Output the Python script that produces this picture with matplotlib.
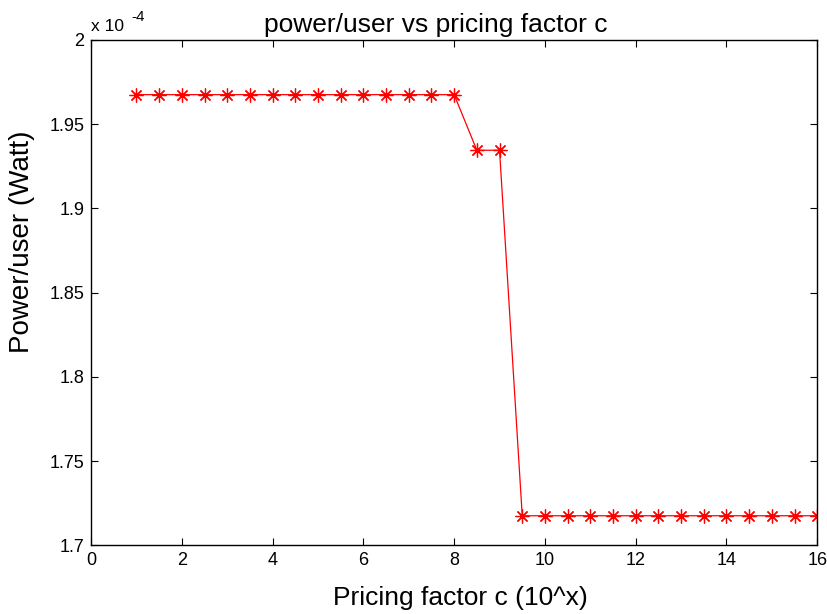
import numpy as np
import matplotlib.pyplot as plt
from matplotlib.ticker import FuncFormatter

plt.rcParams['font.family'] = ['Liberation Sans', 'DejaVu Sans']

# pricing factor c (10^x)
c = np.arange(1, 16.5, 0.5)
# power per user (Watt)
power = [1.9675e-4] * 15 + [1.9345e-4] * 2 + [1.7175e-4] * 14

fig = plt.figure(figsize=(8.28, 6.14), dpi=100)
ax = fig.add_axes([0.11, 0.112, 0.877, 0.823])

# MATLAB style '*' marker: plus and cross together
ax.plot(c, power, color='red', linestyle='-', linewidth=0.9,
        marker=(8, 2, 0), markersize=10, markeredgewidth=0.9)

ax.set_xlim(0, 16)
ax.set_ylim(1.7e-4, 2.0e-4)
ax.set_xticks(np.arange(0, 17, 2))
ax.set_yticks(np.arange(1.7e-4, 2.0001e-4, 0.05e-4))
ax.yaxis.set_major_formatter(FuncFormatter(lambda v, p: f"{v*1e4:g}"))
ax.tick_params(direction='in', top=True, right=True, labelsize=13,
               length=5, pad=5)
for s in ax.spines.values():
    s.set_linewidth(1.0)

ax.text(0.0, 1.012, 'x 10', transform=ax.transAxes, fontsize=12.5,
        ha='left', va='bottom')
ax.text(0.056, 1.032, '-4', transform=ax.transAxes, fontsize=11,
        ha='left', va='bottom')
ax.set_title('power/user vs pricing factor c', fontsize=19, pad=6, x=0.474)
ax.set_xlabel('Pricing factor c (10^x)', fontsize=19, labelpad=4)
ax.xaxis.set_label_coords(0.508, -0.08)
ax.set_ylabel('Power/user (Watt)', fontsize=20)
ax.yaxis.set_label_coords(-0.077, 0.6)

fig.savefig('out.png', dpi=100)
